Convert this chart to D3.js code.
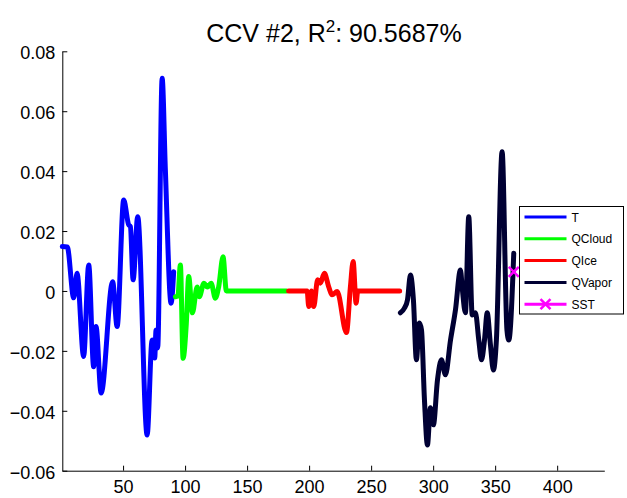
<!DOCTYPE html>
<html>
<head>
<meta charset="utf-8">
<title>CCV #2</title>
<script src="https://d3js.org/d3.v7.min.js"></script>
<style>
  body { margin: 0; background: #fff; }
  text { font-family: "Liberation Sans", Arial, Helvetica, sans-serif; }
</style>
</head>
<body>
<svg id="chart"></svg>
<script>
// data (level index, value)
var tLev = [1, 5, 10.2, 12.9, 18.2, 22.3, 26.3, 28.2, 32.3, 41.6, 45.2, 50.5, 54.5, 55.9, 58.1, 61.8, 69.4, 73.4, 75.5, 76.6, 77.9, 81.5, 84.1, 88.7, 90.8];
var tVal = [0.0148, 0.0147, -0.0023, 0.0059, -0.0219, 0.0087, -0.0253, -0.0119, -0.0341, 0.0031, -0.0119, 0.0304, 0.0221, 0.0215, 0.0037, 0.0248, -0.0481, -0.0164, -0.0224, -0.0130, -0.0190, 0.0710, 0.0404, -0.0041, 0.0064];

var cloudLev = [92.2, 94.2, 96.2, 98.4, 101.0, 102.9, 105.9, 109.7, 111.5, 115.2, 118, 121, 124.4, 127.1, 130.6, 133.3, 181.7];
var cloudVal = [-0.0019, -0.0017, 0.0087, -0.0225, -0.0108, 0.0048, -0.0073, 0.0013, -0.0019, 0.0026, 0.0013, 0.0026, -0.0024, 0.0014, 0.0114, 0, 0];

var iceLev = [183.5, 198.4, 199.7, 201.9, 203.7, 206.9, 209.1, 212.3, 215.8, 218.5, 222.6, 230.1, 233.3, 235.5, 237.9, 239.2, 273];
var iceVal = [0, 0, -0.0052, 0, -0.0052, 0.0037, 0.0026, 0.0059, 0.0014, -0.0013, -0.0002, -0.0139, 0.0014, 0.0098, -0.0041, 0, 0];

var vapLev = [273.6, 276.9, 279.3, 281.7, 284.1, 286.5, 288.9, 290.6, 293, 295.4, 297.8, 300.2, 303.5, 306.7, 309.9, 314, 318, 322, 323.6, 326, 328.7, 331.5, 334.1, 336.8, 339, 341.4, 343.6, 346.2, 348.6, 351, 355.6, 359.5, 361, 365];
var vapVal = [-0.0073, -0.0057, -0.003, 0.0053, -0.003, -0.023, -0.0107, -0.013, -0.0364, -0.0514, -0.039, -0.0447, -0.0297, -0.023, -0.028, -0.0164, -0.0063, 0.007, 0.0003, -0.0073, 0.0248, -0.008, -0.0073, -0.0164, -0.023, -0.0164, -0.0073, -0.018, -0.0264, -0.0164, 0.0465, -0.013, -0.0164, 0.0126];

var sstLev = [365];
var sstVal = [0.0064];

var seriesNames = ["T", "QCloud", "QIce", "QVapor", "SST"];
var seriesColors = ["#0000ff", "#00ff00", "#ff0000", "#000033", "#ff00ff"];

var xTicks = [50, 100, 150, 200, 250, 300, 350, 400];
var yTicks = [-0.06, -0.04, -0.02, 0, 0.02, 0.04, 0.06, 0.08];

var width = 627, height = 498;
var svg = d3.select("#chart").attr("width", width).attr("height", height);

var x = d3.scaleLinear().domain([1, 438]).range([62.3, 604.3]);
var y = d3.scaleLinear().domain([-0.06, 0.08]).range([470.7, 51.3]);

// title
var title = svg.append("text")
    .attr("x", 334)
    .attr("y", 42)
    .attr("text-anchor", "middle")
    .style("font-size", "25px");
title.append("tspan").text("CCV #2, R");
title.append("tspan").attr("dy", -10).style("font-size", "17px").text("2");
title.append("tspan").attr("dy", 10).text(": 90.5687%");

// axes (MATLAB style, ticks inside)
var fmt = function(d) { return d === 0 ? "0" : d3.format(".2f")(d).replace("-", "\u2212"); };

var xAxis = svg.append("g")
    .attr("transform", "translate(0," + y(-0.06) + ")")
    .call(d3.axisBottom(x).tickValues(xTicks).tickSizeInner(-5).tickSizeOuter(0).tickPadding(0));
xAxis.selectAll("text").attr("y", 22).attr("dy", 0).style("font-size", "18px").attr("fill", "#000");

var yAxis = svg.append("g")
    .attr("transform", "translate(" + x(1) + ",0)")
    .call(d3.axisLeft(y).tickValues(yTicks).tickFormat(fmt).tickSizeInner(-5).tickSizeOuter(0).tickPadding(0));
yAxis.selectAll("text").attr("x", -7).attr("dy", "7.5").style("font-size", "18px").attr("fill", "#000");

svg.selectAll(".domain, .tick line").attr("stroke", "#000").attr("stroke-width", 1);

// lines
var line = d3.line()
    .x(function(d) { return x(d[0]); })
    .y(function(d) { return y(d[1]); })
    .curve(d3.curveMonotoneX);

var allLev = [tLev, cloudLev, iceLev, vapLev];
var allVal = [tVal, cloudVal, iceVal, vapVal];

for (var i = 0; i < 4; i++) {
  svg.append("path")
    .datum(d3.zip(allLev[i], allVal[i]))
    .attr("d", line)
    .attr("fill", "none")
    .attr("stroke", seriesColors[i])
    .attr("stroke-width", 5)
    .attr("stroke-linejoin", "round")
    .attr("stroke-linecap", "round");
}

// SST marker
function xMark(g, cx, cy, r, col) {
  g.append("path")
    .attr("d", "M" + (cx - r) + "," + (cy - r) + "L" + (cx + r) + "," + (cy + r) +
               "M" + (cx - r) + "," + (cy + r) + "L" + (cx + r) + "," + (cy - r))
    .attr("stroke", col)
    .attr("stroke-width", 2.5)
    .attr("fill", "none");
}
d3.zip(sstLev, sstVal).forEach(function(d) {
  xMark(svg, x(d[0]), y(d[1]), 5, seriesColors[4]);
});

// legend
var legend = svg.append("g").attr("transform", "translate(519.5,206.5)");
legend.append("rect")
  .attr("width", 104)
  .attr("height", 107.5)
  .attr("fill", "#fff")
  .attr("stroke", "#000")
  .attr("stroke-width", 1);

seriesNames.forEach(function(name, k) {
  var ly = 10.5 + k * 21.8;
  legend.append("line")
    .attr("x1", 5).attr("x2", 47)
    .attr("y1", ly).attr("y2", ly)
    .attr("stroke", seriesColors[k])
    .attr("stroke-width", 3);
  if (name === "SST") xMark(legend, 26, ly, 5, seriesColors[k]);
  legend.append("text")
    .attr("x", 52)
    .attr("y", ly + 4.5)
    .style("font-size", "12px")
    .text(name);
});
</script>
</body>
</html>
